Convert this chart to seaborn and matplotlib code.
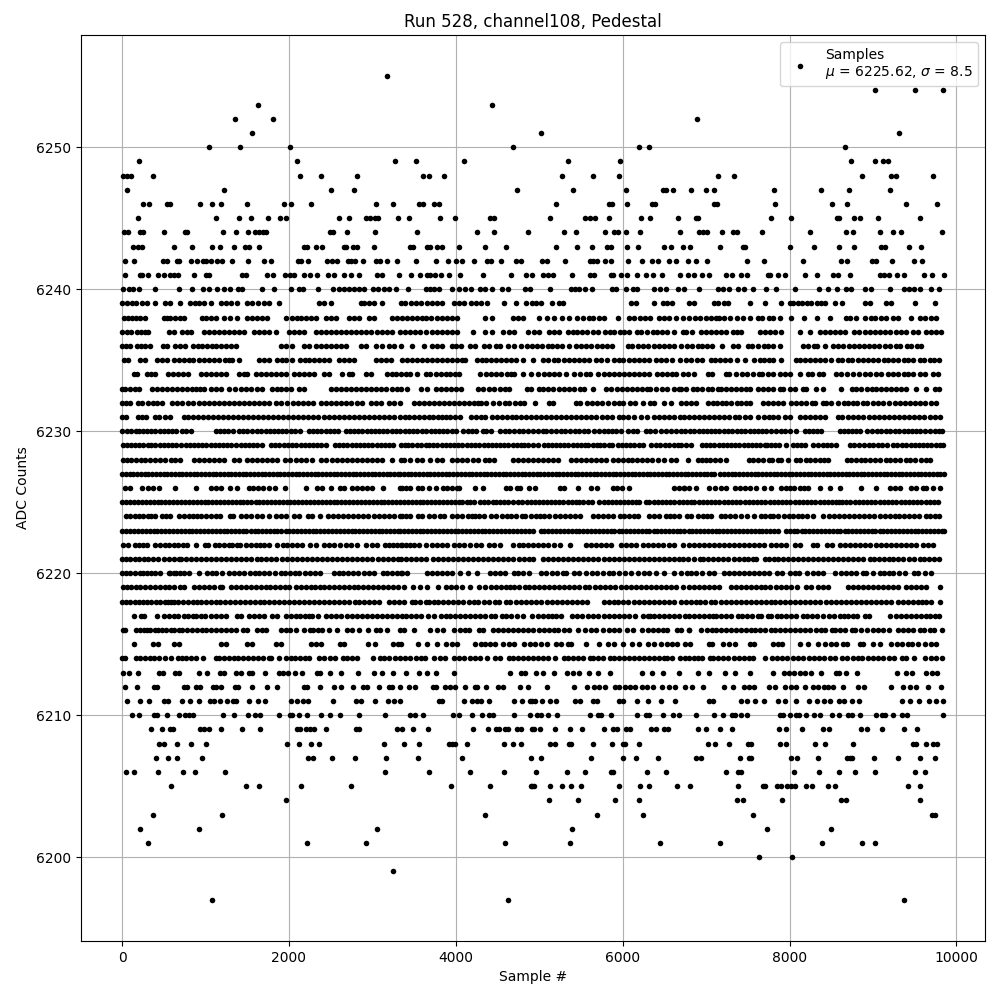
# pedestal_samples.py
import pandas as pd
import matplotlib
matplotlib.use('Agg')
import matplotlib.pyplot as plt
import seaborn as sns

# sample numbers, one list per ADC count
s_6197 = [1080, 4620, 9368]
s_6199 = [3252]
s_6200 = [7628, 8024]
s_6201 = [312, 2220, 2928, 4584, 5372, 6452, 7172, 8384, 8864, 9020]
s_6202 = [216, 924, 3060, 5396, 7724, 8492]
s_6203 = [372, 1200, 4344, 5696, 6248, 7556, 9704, 9740]
s_6204 = [1968, 5120, 5468, 5912, 6200, 7376, 7436, 7904, 8612, 8672, 9560]
s_6205 = [588, 1488, 1644, 2148, 2748, 3948, 4404, 4904, 4916, 4940, 5132, 5276, 5384, 5504, 5960, 6212, 6320, 6656,
          6812, 7388, 7676, 7700, 7844, 7892, 7964, 8012, 8060, 8192, 8264, 8456, 8540, 9416, 9560]
s_6206 = [48, 144, 432, 732, 876, 1236, 3156, 3684, 4164, 4572, 4964, 5336, 5552, 5864, 5888, 6296, 6524, 7244, 7388,
          7424, 8048, 8348, 8588, 8780, 9020, 9500, 9620]
s_6207 = [408, 552, 660, 960, 2232, 2292, 2520, 2796, 3168, 3552, 4080, 4904, 5024, 5624, 6008, 6164, 6428, 6884,
          6944, 7412, 7508, 7532, 8012, 8084, 8336, 8684, 8720, 8744, 9008, 9296, 9560, 9740]
s_6208 = [444, 504, 660, 828, 1008, 1980, 2124, 2268, 2364, 3144, 3384, 3564, 3924, 3960, 3996, 4128, 4572, 4680,
          4776, 5132, 5192, 5360, 5384, 5648, 5876, 6008, 6032, 6200, 7028, 7112, 7280, 7496, 7532, 7880, 7952, 8300,
          8420, 8756, 9476, 9512, 9632, 9716, 9764]
s_6209 = [348, 480, 576, 612, 936, 984, 1044, 1188, 1440, 1656, 2100, 2136, 2208, 2256, 2304, 2448, 2808, 2844, 3300,
          3360, 3492, 3672, 4200, 4380, 4476, 4512, 4584, 4620, 4728, 4776, 4916, 4940, 5012, 5192, 5372, 5516, 5780,
          5888, 5936, 6044, 6092, 6344, 6404, 6500, 6548, 6908, 7004, 7172, 7316, 7868, 7952, 8144, 8396, 8468, 8852,
          8924, 9104, 9368, 9524]
s_6210 = [120, 204, 384, 420, 540, 684, 756, 804, 852, 1212, 1344, 1512, 1596, 1656, 1884, 2016, 2040, 2124, 2220,
          2388, 2496, 2616, 2844, 3156, 3456, 3516, 3612, 3972, 4044, 4188, 4308, 4392, 4440, 4692, 4884, 4976, 5024,
          5108, 5216, 5612, 5708, 5744, 5864, 6176, 6284, 6320, 6488, 6608, 6680, 6884, 7100, 7208, 7316, 7352, 7424,
          7484, 7880, 7916, 8000, 8072, 8108, 8192, 8288, 8360, 8504, 8588, 8696, 8744, 8840, 9032, 9104, 9140, 9236,
          9344, 9404, 9836]
s_6211 = [60, 216, 324, 504, 552, 720, 816, 924, 1056, 1104, 1176, 1260, 1332, 1368, 1524, 1632, 1716, 2028, 2100,
          2172, 2232, 2532, 2808, 2868, 3036, 3192, 3264, 3336, 3804, 3840, 4092, 4188, 4248, 4296, 4392, 4692, 4788,
          4884, 4916, 4952, 5036, 5132, 5204, 5432, 5492, 5648, 5696, 5960, 6008, 6176, 6308, 6464, 6632, 7040, 7088,
          7424, 7484, 7580, 7688, 7856, 7940, 8072, 8228, 8324, 8408, 8480, 8588, 8648, 8744, 8828, 9344, 9440, 9548,
          9668, 9752, 9836]
s_6212 = [36, 180, 384, 420, 744, 780, 888, 936, 1092, 1128, 1188, 1356, 1392, 1560, 1740, 1860, 2184, 2220, 2376,
          2544, 2628, 2772, 2892, 2940, 3084, 3204, 3240, 3336, 3444, 3516, 3732, 3768, 3876, 3936, 3996, 4104, 4224,
          4248, 4364, 4500, 4560, 4764, 4860, 5096, 5420, 5576, 5660, 5720, 5792, 5912, 5960, 6032, 6092, 6152, 6236,
          6296, 6368, 6476, 6560, 6632, 6752, 6836, 6968, 7220, 7328, 7448, 7508, 7568, 7748, 7820, 7940, 8012, 8072,
          8180, 8276, 8336, 8408, 8456, 8516, 8636, 8816, 8888, 9216, 9356, 9440, 9512, 9656, 9812]
s_6213 = [12, 84, 192, 444, 492, 636, 684, 924, 1020, 1176, 1224, 1368, 1428, 1524, 1560, 1716, 1884, 1932, 1992,
          2076, 2160, 2340, 2376, 2496, 2628, 2832, 3024, 3120, 3252, 3408, 3564, 3660, 3768, 3984, 4644, 4776, 4824,
          4964, 5048, 5180, 5336, 5408, 5480, 5600, 5708, 5852, 6236, 6356, 6488, 6680, 6908, 7040, 7232, 7352, 7520,
          7796, 7928, 7988, 8048, 8120, 8180, 8252, 8372, 8552, 8588, 8672, 8804, 9284, 9392, 9464, 9632, 9704, 9764]
s_6214 = [4, 38, 165, 218, 270, 330, 385, 440, 510, 585, 670, 715, 770, 830, 880, 975, 1125, 1160, 1225, 1280, 1340,
          1395, 1450, 1510, 1570, 1630, 1690, 1755, 1785, 1875, 1960, 2025, 2075, 2135, 2190, 2235, 2365, 2420, 2490,
          2555, 2645, 2700, 2760, 2810, 3005, 3095, 3145, 3205, 3265, 3335, 3390, 3450, 3520, 3580, 3630, 3735, 3810,
          3875, 3975, 4040, 4100, 4165, 4230, 4295, 4375, 4470, 4535, 4635, 4690, 4750, 4810, 4870, 4930, 4990, 5050,
          5110, 5190, 5295, 5350, 5410, 5470, 5530, 5610, 5640, 5700, 5760, 5850, 5895, 5950, 6010, 6075, 6135, 6190,
          6250, 6310, 6370, 6430, 6490, 6535, 6590, 6690, 6745, 6800, 6860, 6905, 6950, 7045, 7085, 7140, 7200, 7265,
          7330, 7390, 7450, 7510, 7565, 7705, 7790, 7850, 7910, 7975, 8040, 8100, 8165, 8230, 8290, 8350, 8410, 8480,
          8545, 8630, 8690, 8755, 8815, 8870, 8935, 9000, 9060, 9125, 9190, 9250, 9345, 9390, 9490, 9620, 9690, 9750, 9825]
s_6215 = [140, 370, 430, 620, 680, 1180, 1240, 1500, 1560, 1850, 1900, 2260, 2330, 2380, 2610, 2660, 2950, 3030, 3250,
          3310, 3340, 3550, 3660, 3772, 3880, 3950, 4020, 4224, 4300, 4350, 4410, 4470, 4570, 4640, 4700, 4820, 4890,
          4950, 5020, 5090, 5200, 5260, 5345, 5380, 5560, 5720, 5820, 5900, 6000, 6110, 6190, 6300, 6380, 6460, 6530,
          6590, 6650, 6745, 6810, 7040, 7070, 7200, 7280, 7350, 7520, 7570, 7800, 7860, 7910, 8120, 8220, 8340, 8420,
          8500, 8560, 8640, 8690, 8840, 8880, 9000, 9080, 9210, 9290, 9345, 9420, 9470, 9540, 9620, 9690, 9750]
s_6216 = [5, 30, 170, 210, 260, 300, 335, 400, 430, 480, 530, 590, 620, 680, 720, 780, 840, 900, 960, 1010, 1060, 1120,
          1180, 1240, 1300, 1360, 1450, 1500, 1620, 1680, 1730, 1900, 1960, 2010, 2090, 2180, 2250, 2290, 2350, 2400,
          2480, 2570, 2700, 2760, 2840, 2950, 3040, 3090, 3180, 3330, 3380, 3500, 3690, 3770, 3850, 3980, 4050, 4110,
          4160, 4275, 4320, 4440, 4500, 4570, 4630, 4690, 4750, 4810, 4870, 4930, 5000, 5060, 5120, 5180, 5220, 5300,
          5360, 5470, 5545, 5620, 5680, 5760, 5830, 5890, 5950, 6050, 6120, 6230, 6300, 6360, 6420, 6480, 6530, 6650,
          6700, 6790, 6800, 6940, 7010, 7070, 7120, 7180, 7240, 7300, 7360, 7420, 7480, 7540, 7590, 7650, 7700, 7780,
          7830, 7890, 7950, 8000, 8060, 8120, 8190, 8250, 8320, 8380, 8430, 8510, 8550, 8610, 8670, 8750, 8790, 8860,
          8930, 9000, 9060, 9120, 9190, 9300, 9360, 9420, 9480, 9560, 9610, 9680, 9730, 9830]
s_6217 = [140, 230, 260, 420, 500, 560, 620, 670, 740, 790, 850, 880, 940, 990, 1070, 1130, 1190, 1240, 1380, 1420,
          1520, 1580, 1640, 1700, 1800, 1860, 1970, 2030, 2080, 2130, 2190, 2240, 2280, 2350, 2440, 2500, 2560, 2620,
          2700, 2760, 2820, 2870, 2930, 3000, 3060, 3120, 3180, 3240, 3300, 3350, 3400, 3460, 3520, 3580, 3670, 3740,
          3820, 3880, 3930, 3990, 4050, 4110, 4170, 4230, 4290, 4350, 4420, 4470, 4550, 4600, 4660, 4730, 4800, 4910,
          4980, 5040, 5100, 5150, 5200, 5260, 5390, 5450, 5510, 5580, 5640, 5700, 5770, 5830, 5890, 5950, 6010, 6070,
          6150, 6240, 6300, 6330, 6380, 6440, 6500, 6560, 6620, 6680, 6745, 6800, 6860, 6920, 6980, 7030, 7080, 7120,
          7180, 7240, 7300, 7380, 7430, 7490, 7550, 7620, 7660, 7740, 7780, 7850, 7900, 7960, 8020, 8080, 8160, 8210,
          8270, 8330, 8400, 8470, 8530, 8600, 8650, 8700, 8760, 8810, 8900, 8950, 9200, 9270, 9330, 9400, 9450, 9520,
          9580, 9640, 9680, 9740, 9790]
s_6218 = [0, 45, 95, 150, 200, 250, 300, 350, 405, 455, 510, 550, 590, 620, 670, 730, 790, 850, 900, 950, 1010, 1070,
          1130, 1170, 1230, 1290, 1350, 1415, 1470, 1530, 1590, 1650, 1700, 1760, 1820, 1880, 1940, 2000, 2060, 2120,
          2180, 2240, 2300, 2360, 2420, 2480, 2540, 2600, 2660, 2720, 2790, 2840, 2900, 2960, 3020, 3080, 3200, 3260,
          3320, 3375, 3470, 3510, 3570, 3640, 3680, 3740, 3790, 3850, 3910, 3970, 4030, 4090, 4160, 4220, 4270, 4340,
          4400, 4470, 4520, 4600, 4650, 4720, 4780, 4840, 4900, 4960, 5020, 5090, 5150, 5210, 5270, 5330, 5395, 5450,
          5510, 5570, 5770, 5830, 5890, 5940, 6000, 6060, 6130, 6190, 6250, 6310, 6370, 6430, 6490, 6560, 6620, 6700,
          6760, 6820, 6880, 6930, 6990, 7060, 7110, 7180, 7240, 7300, 7360, 7420, 7480, 7540, 7600, 7660, 7720, 7780,
          7830, 7890, 7950, 8010, 8070, 8130, 8190, 8250, 8310, 8370, 8440, 8500, 8560, 8620, 8680, 8740, 8800, 8860,
          8920, 8980, 9040, 9100, 9160, 9220, 9300, 9360, 9420, 9480, 9540, 9590, 9640, 9700, 9800]
s_6219 = [5, 60, 110, 170, 220, 280, 340, 400, 450, 510, 560, 620, 700, 740, 860, 920, 980, 1040, 1100, 1170, 1200,
          1300, 1370, 1420, 1480, 1550, 1600, 1660, 1720, 1770, 1830, 1890, 1950, 2000, 2090, 2150, 2200, 2260, 2310,
          2370, 2420, 2480, 2540, 2600, 2660, 2720, 2780, 2830, 2890, 2950, 3010, 3070, 3130, 3190, 3250, 3310, 3380,
          3490, 3570, 3660, 3790, 3880, 3940, 4000, 4070, 4170, 4280, 4350, 4420, 4480, 4540, 4600, 4650, 4700, 4760,
          4830, 4880, 4940, 5000, 5060, 5120, 5180, 5240, 5300, 5360, 5420, 5480, 5550, 5600, 5670, 5730, 5790, 5850,
          5910, 5980, 6040, 6100, 6160, 6220, 6280, 6340, 6400, 6460, 6520, 6580, 6640, 6720, 6800, 6860, 6920, 6980,
          7040, 7100, 7160, 7300, 7360, 7420, 7480, 7540, 7600, 7660, 7710, 7770, 7840, 7900, 7960, 8020, 8090, 8200,
          8260, 8340, 8400, 8460, 8700, 8760, 8820, 8880, 8940, 9000, 9060, 9120, 9180, 9240, 9300, 9400, 9460, 9520,
          9580, 9640, 9800]
s_6220 = [0, 50, 95, 150, 210, 250, 300, 350, 400, 455, 560, 580, 620, 650, 700, 740, 800, 920, 1020, 1080, 1130, 1200,
          1280, 1340, 1400, 1460, 1530, 1590, 1640, 1700, 1760, 1830, 1900, 1950, 2010, 2070, 2120, 2190, 2250, 2310,
          2370, 2540, 2600, 2650, 2710, 2770, 2830, 2900, 2960, 3020, 3130, 3170, 3230, 3300, 3340, 3360, 3420, 3660,
          3720, 3780, 3840, 3900, 3960, 4050, 4150, 4250, 4410, 4470, 4530, 4590, 4700, 4740, 4810, 4880, 5020, 5080,
          5150, 5210, 5280, 5320, 5420, 5480, 5560, 5630, 5690, 5760, 5830, 5880, 5950, 6030, 6100, 6180, 6250, 6320,
          6400, 6500, 6610, 6700, 6770, 6820, 6880, 6950, 7030, 7090, 7220, 7270, 7330, 7390, 7450, 7510, 7570, 7630,
          7690, 7750, 7850, 7910, 8010, 8070, 8110, 8210, 8280, 8340, 8400, 8540, 8620, 8680, 8740, 8800, 8880, 8920,
          9000, 9080, 9130, 9190, 9240, 9310, 9380, 9490, 9540, 9620, 9690]
s_6221 = [0, 45, 95, 150, 205, 260, 310, 370, 430, 500, 560, 620, 680, 710, 770, 830, 890, 950, 1010, 1070, 1130, 1190,
          1250, 1310, 1370, 1430, 1490, 1550, 1620, 1670, 1730, 1780, 1840, 1920, 1980, 2040, 2100, 2160, 2220, 2280,
          2340, 2400, 2460, 2520, 2580, 2640, 2700, 2760, 2820, 2880, 2940, 3000, 3070, 3130, 3190, 3250, 3310, 3340,
          3400, 3460, 3520, 3580, 3640, 3730, 3790, 3850, 3910, 3970, 4030, 4090, 4150, 4210, 4270, 4330, 4390, 4450,
          4510, 4570, 4630, 4690, 4760, 4820, 4880, 4930, 5040, 5100, 5160, 5220, 5280, 5340, 5400, 5470, 5530, 5590,
          5650, 5710, 5770, 5830, 5890, 5950, 6010, 6070, 6130, 6190, 6250, 6320, 6380, 6440, 6500, 6560, 6620, 6680,
          6720, 6780, 6860, 6930, 6960, 7020, 7080, 7140, 7200, 7260, 7330, 7390, 7450, 7500, 7560, 7600, 7700, 7750,
          7810, 7860, 7920, 7980, 8040, 8100, 8160, 8220, 8280, 8340, 8400, 8460, 8520, 8580, 8640, 8700, 8760, 8820,
          8880, 8960, 9010, 9070, 9130, 9190, 9240, 9300, 9360, 9430, 9490, 9560, 9610, 9670, 9730, 9790]
s_6222 = [10, 70, 150, 200, 255, 300, 400, 460, 510, 560, 620, 670, 730, 780, 880, 990, 1030, 1110, 1160, 1220, 1280,
          1320, 1380, 1410, 1480, 1540, 1600, 1650, 1700, 1760, 1860, 1930, 1980, 2040, 2100, 2160, 2250, 2320, 2420,
          2480, 2540, 2610, 2680, 2740, 2820, 2920, 2990, 3060, 3150, 3200, 3250, 3300, 3340, 3350, 3400, 3450, 3500,
          3560, 3640, 3720, 3770, 3830, 3890, 3980, 4040, 4100, 4170, 4240, 4300, 4400, 4460, 4530, 4690, 4760, 4810,
          4870, 4930, 4990, 5050, 5110, 5180, 5250, 5370, 5560, 5620, 5680, 5740, 5800, 5860, 5980, 6040, 6100, 6160,
          6240, 6300, 6360, 6420, 6480, 6560, 6610, 6720, 6800, 6860, 6920, 6980, 7030, 7090, 7150, 7210, 7270, 7330,
          7390, 7450, 7510, 7570, 7630, 7690, 7780, 7840, 7900, 7960, 8060, 8120, 8280, 8330, 8450, 8510, 8600, 8660,
          8720, 8780, 8840, 8900, 8960, 9040, 9100, 9160, 9220, 9280, 9340, 9400, 9460, 9520, 9600, 9660, 9720]
s_6223 = [0, 48, 92, 140, 190, 236, 282, 330, 378, 420, 470, 518, 560, 612, 658, 702, 750, 798, 842, 890, 935, 985,
          1030, 1080, 1125, 1170, 1218, 1262, 1310, 1355, 1400, 1448, 1490, 1540, 1590, 1632, 1680, 1725, 1772, 1820,
          1860, 1910, 1960, 2005, 2050, 2100, 2148, 2192, 2240, 2285, 2330, 2378, 2425, 2470, 2520, 2562, 2610, 2655,
          2705, 2750, 2795, 2842, 2890, 2935, 2980, 3030, 3075, 3120, 3168, 3215, 3260, 3310, 3335, 3380, 3430, 3475,
          3520, 3570, 3612, 3660, 3705, 3750, 3802, 3845, 3890, 3940, 3985, 4030, 4078, 4122, 4170, 4218, 4262, 4310,
          4355, 4400, 4450, 4495, 4545, 4590, 4640, 4690, 4730, 4780, 4825, 4872, 4920, 5015, 5060, 5110, 5155, 5200,
          5250, 5295, 5340, 5390, 5435, 5480, 5530, 5575, 5620, 5668, 5715, 5760, 5810, 5855, 5900, 5950, 5995, 6040,
          6090, 6135, 6180, 6230, 6275, 6320, 6370, 6415, 6460, 6510, 6555, 6600, 6650, 6690, 6740, 6790, 6835, 6880,
          6925, 6975, 7020, 7068, 7115, 7160, 7208, 7255, 7300, 7348, 7392, 7440, 7490, 7535, 7580, 7630, 7675, 7720,
          7770, 7815, 7860, 7955, 8005, 8050, 8095, 8145, 8190, 8238, 8285, 8330, 8380, 8425, 8470, 8520, 8565, 8610,
          8660, 8705, 8750, 8800, 8845, 8890, 8940, 8985, 9030, 9080, 9125, 9170, 9220, 9265, 9310, 9360, 9405, 9450,
          9500, 9545, 9590, 9640, 9685, 9730, 9780, 9825, 9850]
s_6224 = [50, 100, 150, 200, 255, 310, 345, 400, 480, 530, 570, 680, 740, 800, 850, 900, 950, 1000, 1070, 1120, 1170,
          1290, 1330, 1420, 1490, 1540, 1620, 1680, 1760, 1840, 1900, 1960, 2060, 2120, 2230, 2280, 2370, 2470, 2530,
          2590, 2650, 2710, 2770, 2830, 2890, 2950, 3020, 3080, 3140, 3200, 3260, 3330, 3350, 3400, 3450, 3550, 3600,
          3680, 3740, 3810, 3860, 3950, 4010, 4070, 4150, 4190, 4230, 4280, 4340, 4420, 4480, 4550, 4610, 4660, 4720,
          4790, 4830, 4900, 4960, 5010, 5060, 5120, 5190, 5250, 5310, 5370, 5430, 5490, 5640, 5700, 5760, 5820, 5880,
          5970, 6020, 6080, 6130, 6180, 6320, 6380, 6440, 6520, 6570, 6620, 6680, 6770, 6820, 6900, 6960, 7010, 7060,
          7180, 7230, 7290, 7350, 7420, 7490, 7570, 7660, 7700, 7760, 7800, 7860, 7930, 7990, 8040, 8100, 8150, 8210,
          8280, 8400, 8470, 8530, 8590, 8650, 8710, 8770, 8830, 8890, 8950, 9010, 9080, 9140, 9200, 9260, 9310, 9370,
          9430, 9490, 9550, 9630, 9680, 9740, 9790]
s_6225 = [0, 47, 95, 142, 188, 236, 285, 330, 378, 425, 472, 518, 565, 610, 660, 705, 752, 800, 848, 892, 940, 988,
          1035, 1080, 1128, 1175, 1222, 1268, 1315, 1362, 1410, 1455, 1502, 1550, 1600, 1642, 1690, 1738, 1785, 1830,
          1878, 1925, 1972, 2018, 2065, 2112, 2160, 2205, 2252, 2300, 2348, 2392, 2440, 2488, 2535, 2580, 2628, 2675,
          2722, 2768, 2815, 2862, 2910, 2955, 3002, 3050, 3098, 3142, 3190, 3238, 3285, 3330, 3378, 3425, 3472, 3518,
          3565, 3612, 3660, 3705, 3752, 3800, 3848, 3892, 3940, 3988, 4035, 4080, 4128, 4175, 4222, 4290, 4340, 4390,
          4440, 4480, 4530, 4580, 4630, 4690, 4740, 4790, 4850, 4900, 4950, 5000, 5040, 5090, 5140, 5190, 5240, 5290,
          5340, 5390, 5440, 5480, 5530, 5580, 5630, 5720, 5770, 5820, 5870, 5920, 5970, 6010, 6060, 6110, 6160, 6200,
          6280, 6320, 6370, 6420, 6470, 6520, 6570, 6620, 6670, 6720, 6770, 6820, 6860, 6910, 6960, 7010, 7060, 7110,
          7160, 7210, 7260, 7310, 7360, 7410, 7460, 7510, 7560, 7610, 7660, 7710, 7760, 7810, 7860, 7910, 7960, 8010,
          8060, 8110, 8160, 8210, 8260, 8310, 8360, 8410, 8460, 8510, 8560, 8590, 8630, 8680, 8730, 8780, 8830, 8880,
          8930, 8980, 9030, 9080, 9130, 9180, 9230, 9280, 9330, 9380, 9430, 9480, 9530, 9580, 9630, 9680, 9730, 9785]
s_6226 = [40, 90, 240, 310, 370, 440, 630, 880, 1070, 1130, 1190, 1290, 1380, 1520, 1570, 1630, 1690, 1760, 1830, 1950,
          2210, 2340, 2400, 2500, 2610, 2660, 2760, 2820, 2880, 2940, 3000, 3130, 3330, 3350, 3400, 3450, 3550, 3600,
          3680, 3760, 3850, 3900, 3950, 4010, 4040, 4230, 4330, 4600, 4650, 4730, 4770, 4880, 4950, 5250, 5300, 5470,
          5620, 5690, 5880, 5930, 5990, 6080, 6610, 6680, 6740, 6790, 6740, 6880, 7030, 7110, 7180, 7240, 7350, 7410,
          7470, 7530, 7600, 7690, 7780, 7900, 7960, 8010, 8050, 8120, 8170, 8220, 8360, 8490, 8610, 8860, 9040, 9200,
          9260, 9320, 9460, 9510, 9600, 9640, 9720, 9800]
s_6227 = [0, 44, 90, 136, 180, 224, 272, 316, 362, 406, 452, 498, 542, 586, 632, 680, 722, 766, 812, 858, 902, 946, 994,
          1040, 1084, 1128, 1174, 1220, 1266, 1310, 1354, 1402, 1446, 1490, 1536, 1582, 1626, 1672, 1718, 1762, 1808,
          1854, 1898, 1944, 1990, 2034, 2080, 2126, 2170, 2216, 2262, 2308, 2352, 2398, 2444, 2490, 2534, 2580, 2626,
          2670, 2716, 2762, 2808, 2852, 2898, 2944, 2990, 3034, 3080, 3126, 3170, 3216, 3262, 3306, 3332, 3378, 3424,
          3468, 3514, 3560, 3606, 3650, 3696, 3742, 3788, 3832, 3878, 3924, 3970, 4014, 4060, 4106, 4152, 4196, 4242,
          4288, 4332, 4378, 4424, 4470, 4514, 4560, 4606, 4652, 4696, 4742, 4788, 4832, 4878, 4924, 4970, 5014, 5060,
          5106, 5152, 5196, 5242, 5288, 5332, 5378, 5424, 5470, 5514, 5560, 5606, 5652, 5696, 5742, 5788, 5832, 5878,
          5924, 5970, 6014, 6060, 6106, 6152, 6196, 6242, 6288, 6332, 6378, 6424, 6470, 6514, 6560, 6606, 6652, 6696,
          6742, 6788, 6832, 6878, 6924, 6970, 7014, 7060, 7100, 7170, 7216, 7262, 7306, 7352, 7398, 7444, 7490, 7534,
          7580, 7626, 7672, 7716, 7762, 7808, 7852, 7898, 7944, 7990, 8034, 8080, 8126, 8172, 8216, 8262, 8308, 8352,
          8398, 8444, 8490, 8534, 8580, 8626, 8672, 8716, 8762, 8808, 8852, 8898, 8944, 8990, 9034, 9080, 9126, 9172,
          9216, 9262, 9308, 9352, 9398, 9444, 9490, 9534, 9580, 9626, 9672, 9716, 9762, 9808, 9850]
s_6228 = [10, 60, 110, 170, 230, 280, 340, 400, 460, 520, 590, 640, 700, 860, 920, 980, 1040, 1100, 1160, 1220, 1340,
          1400, 1500, 1560, 1620, 1680, 1740, 1800, 1860, 1950, 2010, 2080, 2140, 2200, 2280, 2380, 2440, 2520, 2580,
          2640, 2700, 2760, 2820, 2880, 2940, 3000, 3060, 3120, 3240, 3340, 3380, 3450, 3530, 3590, 3690, 3780, 3830,
          3950, 4020, 4070, 4130, 4200, 4270, 4350, 4400, 4460, 4690, 4750, 4800, 4860, 4920, 4980, 5040, 5100, 5160,
          5220, 5380, 5440, 5500, 5560, 5620, 5680, 5740, 5800, 5880, 5940, 6000, 6060, 6110, 6170, 6230, 6290, 6350,
          6420, 6490, 6580, 6640, 6780, 6900, 6950, 7000, 7050, 7110, 7170, 7240, 7510, 7560, 7620, 7680, 7750, 7790,
          7860, 7900, 7980, 8080, 8120, 8200, 8250, 8310, 8360, 8410, 8460, 8690, 8740, 8800, 8860, 8910, 8960, 9020,
          9080, 9150, 9200, 9260, 9320, 9390, 9440, 9500, 9570, 9630, 9680]
s_6229 = [5, 55, 105, 150, 205, 255, 305, 345, 400, 450, 500, 550, 600, 650, 710, 760, 810, 860, 910, 960, 1010, 1060,
          1110, 1160, 1210, 1260, 1310, 1370, 1420, 1470, 1520, 1570, 1620, 1680, 1780, 1830, 1880, 1940, 1990, 2040,
          2090, 2140, 2190, 2240, 2290, 2340, 2390, 2440, 2550, 2600, 2650, 2700, 2750, 2800, 2850, 2900, 2950, 3000,
          3050, 3100, 3150, 3200, 3250, 3340, 3385, 3430, 3480, 3530, 3580, 3640, 3680, 3730, 3780, 3830, 3880, 3930,
          3980, 4030, 4080, 4130, 4180, 4230, 4280, 4340, 4380, 4430, 4480, 4530, 4580, 4620, 4680, 4730, 4780, 4820,
          4870, 4930, 4980, 5060, 5100, 5150, 5200, 5250, 5300, 5350, 5400, 5450, 5500, 5550, 5590, 5640, 5690, 5730,
          5780, 5830, 5870, 5940, 5990, 6040, 6090, 6140, 6190, 6240, 6340, 6400, 6450, 6510, 6560, 6610, 6660, 6700,
          6760, 6820, 6950, 7000, 7050, 7100, 7150, 7200, 7250, 7300, 7350, 7400, 7450, 7500, 7550, 7600, 7650, 7700,
          7730, 7780, 7830, 7870, 7960, 8040, 8090, 8140, 8190, 8280, 8340, 8400, 8450, 8500, 8560, 8720, 8770, 8830,
          8890, 8950, 9000, 9060, 9110, 9170, 9240, 9290, 9350, 9400, 9450, 9500, 9550, 9600, 9650, 9700, 9750, 9800, 9845]
s_6230 = [0, 55, 110, 165, 200, 250, 300, 350, 400, 450, 500, 550, 600, 650, 720, 770, 820, 1120, 1170, 1220, 1270,
          1330, 1400, 1450, 1500, 1560, 1620, 1670, 1720, 1770, 1820, 1870, 1920, 1970, 2020, 2070, 2130, 2240, 2290,
          2340, 2390, 2440, 2490, 2540, 2590, 2680, 2730, 2780, 2830, 2880, 2930, 2980, 3030, 3080, 3130, 3180, 3230,
          3280, 3335, 3390, 3440, 3490, 3540, 3590, 3640, 3700, 3750, 3800, 3850, 3900, 3950, 4000, 4090, 4140, 4190,
          4240, 4320, 4360, 4420, 4530, 4590, 4640, 4700, 4760, 4810, 4870, 4920, 4980, 5040, 5080, 5140, 5200, 5260,
          5310, 5370, 5430, 5480, 5540, 5590, 5660, 5720, 5770, 5820, 5870, 5920, 5980, 6060, 6120, 6170, 6280, 6330,
          6390, 6460, 6520, 6580, 6640, 6700, 6750, 6810, 6860, 6910, 6960, 7010, 7060, 7110, 7160, 7210, 7260, 7310,
          7370, 7420, 7470, 7520, 7570, 7620, 7670, 7720, 7780, 7840, 7900, 7950, 8000, 8080, 8180, 8230, 8280, 8330,
          8380, 8600, 8650, 8700, 8750, 8800, 8850, 8930, 8990, 9050, 9100, 9150, 9200, 9260, 9310, 9370, 9420, 9470,
          9520, 9560, 9620, 9680, 9740, 9790, 9830]
s_6231 = [0, 50, 190, 240, 290, 390, 440, 510, 570, 740, 790, 850, 910, 970, 1030, 1090, 1150, 1210, 1270, 1330, 1390,
          1450, 1510, 1570, 1630, 1690, 1750, 1810, 1870, 1930, 1990, 2050, 2110, 2170, 2230, 2290, 2350, 2420, 2480,
          2540, 2600, 2660, 2720, 2780, 2840, 2900, 2960, 3020, 3080, 3140, 3200, 3260, 3330, 3390, 3440, 3500, 3560,
          3620, 3680, 3730, 3790, 3830, 3880, 3930, 3990, 4050, 4180, 4240, 4300, 4350, 4430, 4490, 4550, 4610, 4670,
          4720, 4780, 4840, 4900, 4960, 5020, 5080, 5140, 5200, 5260, 5320, 5380, 5440, 5500, 5560, 5620, 5680, 5750,
          5810, 5870, 5950, 6000, 6060, 6130, 6220, 6290, 6370, 6440, 6500, 6560, 6620, 6690, 6740, 6800, 6860, 6920,
          6980, 7040, 7100, 7160, 7220, 7280, 7350, 7400, 7470, 7530, 7620, 7690, 7750, 7800, 7860, 7950, 8000, 8130,
          8190, 8250, 8310, 8370, 8420, 8580, 8630, 8700, 8760, 8820, 8880, 8950, 9010, 9070, 9130, 9190, 9250, 9310,
          9370, 9430, 9490, 9550, 9610, 9680, 9740, 9800]
s_6232 = [0, 50, 100, 190, 240, 310, 370, 420, 480, 600, 660, 720, 790, 850, 920, 980, 1040, 1100, 1160, 1220, 1280,
          1340, 1400, 1460, 1520, 1580, 1640, 1700, 1760, 1850, 1910, 1980, 2050, 2110, 2170, 2230, 2290, 2380, 2440,
          2500, 2560, 2620, 2680, 2740, 2820, 2880, 2980, 3040, 3100, 3200, 3260, 3330, 3500, 3560, 3620, 3680, 3740,
          3800, 3860, 3920, 3980, 4040, 4100, 4160, 4220, 4260, 4300, 4360, 4440, 4520, 4590, 4640, 4710, 4770, 4820,
          4950, 5120, 5170, 5440, 5490, 5570, 5630, 5690, 5750, 5820, 5890, 5950, 6000, 6090, 6150, 6240, 6330, 6370,
          6500, 6580, 6700, 6760, 6820, 6880, 7020, 7080, 7130, 7190, 7240, 7300, 7370, 7420, 7480, 7530, 7680, 7740,
          7800, 7860, 7920, 8020, 8080, 8140, 8200, 8270, 8310, 8400, 8440, 8500, 8580, 8650, 8700, 8760, 8810, 8880,
          8930, 9000, 9060, 9120, 9190, 9260, 9320, 9380, 9440, 9500, 9560, 9620, 9690, 9750]
s_6233 = [0, 40, 90, 150, 200, 360, 420, 480, 540, 600, 660, 720, 780, 840, 880, 930, 980, 1060, 1120, 1190, 1280, 1350,
          1420, 1480, 1540, 1620, 1680, 1800, 1860, 1900, 1960, 2020, 2120, 2180, 2500, 2560, 2620, 2680, 2740, 2800,
          2860, 2920, 2980, 3040, 3100, 3160, 3240, 3300, 3340, 3420, 3580, 3650, 3760, 3820, 3880, 3940, 4000, 4060,
          4260, 4320, 4400, 4460, 4530, 4590, 4640, 4850, 4900, 5000, 5040, 5100, 5160, 5240, 5300, 5360, 5420, 5490,
          5540, 5640, 5800, 5860, 5930, 5990, 6050, 6110, 6170, 6230, 6290, 6330, 6400, 6470, 6530, 6620, 6680, 6700,
          6760, 6840, 6890, 6950, 7020, 7070, 7140, 7180, 7240, 7300, 7360, 7420, 7480, 7530, 7620, 7680, 7740, 7800,
          7880, 7920, 8000, 8060, 8160, 8200, 8320, 8400, 8620, 8750, 8800, 8860, 8930, 8990, 9040, 9100, 9160, 9220,
          9280, 9340, 9400, 9520, 9640, 9740, 9790]
s_6234 = [140, 180, 300, 350, 400, 550, 610, 670, 730, 790, 950, 1010, 1060, 1130, 1190, 1250, 1400, 1460, 1500, 1600,
          1660, 1720, 1780, 1840, 1900, 1960, 2060, 2120, 2180, 2240, 2300, 2420, 2480, 2640, 2720, 2760, 2920, 2980,
          3180, 3240, 3280, 3340, 3400, 3450, 3530, 3640, 3690, 3760, 3820, 3880, 3930, 3990, 4040, 4290, 4360, 4420,
          4480, 4540, 4610, 4660, 4700, 4800, 4900, 4980, 5060, 5120, 5180, 5240, 5320, 5420, 5490, 5560, 5610, 5700,
          5770, 5830, 5890, 5950, 6010, 6070, 6130, 6190, 6250, 6310, 6410, 6470, 6530, 6590, 6640, 6720, 6780, 6850,
          7020, 7070, 7240, 7280, 7360, 7430, 7490, 7560, 7630, 7670, 7740, 7800, 7880, 7940, 8000, 8130, 8220, 8270,
          8350, 8400, 8560, 8620, 8690, 8760, 8830, 8900, 8960, 9040, 9100, 9180, 9240, 9300, 9370, 9420, 9480, 9560,
          9620, 9720, 9780]
s_6235 = [20, 70, 210, 270, 420, 480, 540, 620, 680, 740, 800, 850, 920, 980, 1040, 1100, 1160, 1230, 1280, 1320, 1400,
          1640, 1700, 1760, 1860, 1920, 1960, 2040, 2130, 2190, 2240, 2300, 2360, 2420, 2480, 2600, 2660, 2720, 2780,
          3040, 3100, 3160, 3220, 3360, 3410, 3470, 3530, 3590, 3650, 3710, 3770, 3840, 3900, 3960, 4020, 4080, 4110,
          4250, 4310, 4360, 4420, 4480, 4540, 4600, 4660, 4720, 4800, 4920, 5050, 5100, 5180, 5230, 5300, 5360, 5420,
          5480, 5540, 5600, 5680, 5740, 5810, 5900, 5950, 6000, 6070, 6130, 6200, 6250, 6310, 6400, 6460, 6520, 6590,
          6690, 6760, 6820, 6890, 6950, 7060, 7110, 7170, 7230, 7290, 7370, 7470, 7570, 7640, 7690, 7750, 7800, 7900,
          8080, 8130, 8190, 8250, 8310, 8370, 8430, 8500, 8580, 8630, 8700, 8750, 8820, 8880, 8940, 9000, 9060, 9130,
          9180, 9240, 9300, 9370, 9420, 9480, 9560, 9610, 9680, 9730, 9790]
s_6236 = [0, 50, 100, 180, 230, 280, 340, 490, 540, 640, 690, 750, 850, 910, 960, 1020, 1080, 1130, 1190, 1250, 1310,
          1370, 1910, 1970, 2040, 2180, 2240, 2320, 2380, 2440, 2500, 2560, 2620, 2680, 2860, 2920, 3040, 3120, 3200,
          3260, 3340, 3470, 3620, 3710, 3780, 3840, 3950, 4000, 4060, 4170, 4230, 4340, 4400, 4480, 4530, 4620, 4700,
          4780, 4850, 4910, 4970, 5030, 5100, 5150, 5210, 5270, 5360, 5440, 5500, 5560, 5620, 5690, 5750, 5810, 5870,
          6060, 6110, 6180, 6240, 6300, 6370, 6430, 6490, 6550, 6610, 6700, 6770, 6830, 6900, 6950, 7010, 7070, 7190,
          7320, 7380, 7500, 7550, 7620, 7690, 7740, 7800, 7880, 8160, 8220, 8290, 8330, 8430, 8520, 8580, 8640, 8710,
          8770, 8830, 8890, 8950, 9010, 9070, 9140, 9200, 9270, 9320, 9410, 9460, 9530, 9580]
s_6237 = [0, 60, 110, 180, 230, 270, 310, 560, 620, 720, 780, 830, 980, 1040, 1100, 1160, 1220, 1280, 1340, 1400, 1460,
          1580, 1640, 1700, 1760, 1840, 2000, 2060, 2120, 2180, 2320, 2380, 2440, 2500, 2560, 2620, 2680, 2740, 2800,
          2860, 2920, 2980, 3060, 3120, 3180, 3240, 3335, 3390, 3450, 3510, 3570, 3640, 3710, 3770, 3840, 3890, 3950,
          4010, 4200, 4350, 4430, 4570, 4640, 4700, 4870, 4940, 5000, 5120, 5180, 5240, 5340, 5400, 5450, 5510, 5570,
          5640, 5700, 5790, 5850, 5900, 5970, 6020, 6080, 6170, 6220, 6290, 6360, 6410, 6470, 6530, 6610, 6720, 6760,
          6830, 6940, 7000, 7060, 7120, 7180, 7240, 7320, 7370, 7420, 7640, 7700, 7760, 7820, 7900, 8120, 8240, 8360,
          8420, 8480, 8540, 8600, 8670, 8770, 8830, 8900, 8960, 9020, 9080, 9140, 9200, 9280, 9340, 9400, 9480, 9540,
          9640, 9700, 9760, 9810]
s_6238 = [20, 70, 120, 170, 210, 270, 500, 540, 580, 640, 700, 740, 960, 1010, 1060, 1120, 1220, 1290, 1380, 1500, 1560,
          1620, 1680, 1740, 1960, 2040, 2100, 2150, 2210, 2260, 2330, 2440, 2500, 2560, 2720, 2780, 2840, 2960, 3020,
          3240, 3300, 3360, 3420, 3480, 3530, 3590, 3640, 3700, 3780, 3840, 3900, 3960, 4020, 4350, 4430, 4680, 4750,
          4800, 5000, 5090, 5180, 5270, 5360, 5450, 5530, 5600, 5650, 5720, 5780, 5940, 6080, 6140, 6210, 6270, 6330,
          6430, 6490, 6560, 6640, 6720, 6800, 6870, 6930, 7000, 7060, 7120, 7160, 7220, 7290, 7370, 7440, 7530, 7620,
          7670, 7750, 7800, 7880, 8020, 8170, 8330, 8480, 8680, 8730, 8800, 8910, 8980, 9030, 9100, 9150, 9240, 9300,
          9450, 9560, 9620, 9690, 9750]
s_6239 = [0, 60, 120, 170, 240, 300, 390, 520, 570, 700, 810, 870, 920, 980, 1060, 1180, 1240, 1300, 1380, 1500, 1560,
          1630, 1700, 1760, 1880, 2360, 2420, 2500, 2860, 2900, 2960, 3020, 3120, 3340, 3390, 3460, 3520, 3580, 3650,
          3720, 3780, 3840, 3980, 4040, 4100, 4180, 4240, 4300, 4370, 4580, 4720, 4840, 4910, 4960, 5020, 5150, 5240,
          5290, 6100, 6160, 6380, 6480, 6530, 6590, 6800, 6860, 7100, 7140, 7220, 7260, 7530, 7700, 7900, 8000, 8040,
          8100, 8150, 8210, 8260, 8330, 8380, 8430, 8540, 8630, 8910, 8960, 9160, 9210, 9500, 9740]
s_6240 = [12, 84, 132, 204, 396, 684, 840, 972, 1044, 1140, 1224, 1296, 1392, 1440, 1680, 1824, 2028, 2124, 2172, 2352,
          2532, 2604, 2664, 2724, 2784, 2844, 2904, 3012, 3072, 3144, 3204, 3288, 3432, 3648, 3696, 3744, 3804, 3960,
          4044, 4104, 4176, 4284, 4344, 4428, 4548, 4620, 4824, 4884, 5132, 5384, 5432, 5480, 5552, 5636, 5876, 5924,
          6044, 6128, 6176, 6380, 6452, 6524, 6668, 6740, 6920, 7148, 7208, 7280, 7388, 7448, 7556, 7712, 7832, 8060,
          8348, 8456, 8564, 8672, 8732, 8900, 8972, 9200, 9368, 9428, 9488, 9560, 9692, 9788]
s_6241 = [36, 216, 240, 312, 432, 504, 576, 624, 672, 864, 1008, 1044, 1440, 1488, 1740, 1812, 1956, 2016, 2064, 2184,
          2256, 2340, 2472, 2544, 2664, 2748, 2844, 3060, 3120, 3324, 3468, 3568, 3660, 3696, 3756, 3828, 3924, 4056,
          4320, 4656, 4836, 4916, 5048, 5108, 5168, 5396, 5612, 5660, 5864, 5888, 5984, 6056, 6176, 6284, 6368, 6476,
          6692, 6788, 6860, 6956, 7040, 7244, 7316, 7424, 7484, 7736, 7760, 7856, 7940, 8180, 8324, 8516, 8576, 8720,
          9080, 9128, 9188, 9284, 9368, 9608, 9704, 9850]
s_6242 = [36, 144, 492, 540, 660, 684, 828, 900, 972, 1008, 1068, 1140, 1200, 1320, 1512, 1704, 1788, 2112, 2148, 2232,
          2460, 2520, 2580, 2712, 2748, 2796, 2892, 3048, 3096, 3180, 3300, 3528, 3768, 3912, 4008, 4080, 4212, 4368,
          4416, 4536, 4716, 4776, 5036, 5088, 5312, 5612, 5648, 5696, 5792, 5864, 6068, 6236, 6356, 6428, 6560, 6644,
          6788, 6884, 7016, 7484, 7688, 8156, 8612, 8684, 8984, 9032, 9224, 9488, 9584]
s_6243 = [132, 192, 240, 624, 840, 1080, 1176, 1344, 1476, 1524, 1644, 2184, 2220, 2328, 2400, 2664, 2688, 2772, 2820,
          3024, 3456, 3492, 3660, 3696, 3780, 3840, 4044, 4344, 4596, 5204, 5456, 5636, 5816, 5864, 6056, 6188, 6500,
          6584, 6728, 6812, 7172, 7436, 7460, 8000, 8288, 8588, 8768, 9092, 9140, 9428, 9572]
s_6244 = [24, 72, 216, 252, 504, 756, 780, 1212, 1368, 1512, 1596, 1644, 1692, 1728, 2496, 2532, 2700, 3036, 3540, 4252,
          4452, 4864, 5300, 5444, 5792, 5900, 5948, 6044, 6212, 6692, 6920, 6968, 7016, 7196, 7328, 7376, 7664, 8240,
          8672, 8756, 9080, 9236, 9340, 9824]
s_6245 = [192, 1128, 1404, 1548, 1752, 1896, 1968, 2604, 2724, 2928, 2976, 3036, 3072, 3312, 3444, 3816, 3996, 4404,
          4452, 5132, 5552, 5612, 5672, 5840, 6224, 6332, 6668, 6884, 6908, 7772, 8012, 8564, 8588, 8768, 8840, 9056, 9560]
s_6246 = [252, 324, 540, 576, 936, 1080, 1188, 1500, 1944, 2028, 2268, 3048, 3252, 3564, 3612, 3744, 3804, 5204, 5840,
          5876, 6056, 6356, 6392, 7100, 7136, 7820, 8504, 8692, 9392, 9764]
s_6247 = [60, 1224, 2508, 2784, 4728, 5408, 6044, 6488, 6524, 6608, 6824, 7004, 7100, 7808, 8372, 8708, 9200]
s_6248 = [12, 60, 108, 372, 2136, 2388, 2820, 3612, 3676, 3864, 5276, 5648, 5960, 7148, 7340, 8864, 9212, 9272, 9716]
s_6249 = [204, 2100, 3276, 3528, 4092, 5348, 5972, 8732, 9020, 9116, 9176]
s_6250 = [1044, 1416, 2016, 4680, 6200, 6320, 8660]
s_6251 = [1560, 5024, 9308]
s_6252 = [1356, 1812, 6896]
s_6253 = [1632, 4428]
s_6254 = [9020, 9500, 9836]
s_6255 = [3180]

adc_counts = [6197, 6199, 6200, 6201, 6202, 6203, 6204, 6205, 6206, 6207, 6208, 6209, 6210, 6211, 6212, 6213, 6214,
              6215, 6216, 6217, 6218, 6219, 6220, 6221, 6222, 6223, 6224, 6225, 6226, 6227, 6228, 6229, 6230, 6231,
              6232, 6233, 6234, 6235, 6236, 6237, 6238, 6239, 6240, 6241, 6242, 6243, 6244, 6245, 6246, 6247, 6248,
              6249, 6250, 6251, 6252, 6253, 6254, 6255]
sample_lists = [s_6197, s_6199, s_6200, s_6201, s_6202, s_6203, s_6204, s_6205, s_6206, s_6207, s_6208, s_6209, s_6210,
                s_6211, s_6212, s_6213, s_6214, s_6215, s_6216, s_6217, s_6218, s_6219, s_6220, s_6221, s_6222, s_6223,
                s_6224, s_6225, s_6226, s_6227, s_6228, s_6229, s_6230, s_6231, s_6232, s_6233, s_6234, s_6235, s_6236,
                s_6237, s_6238, s_6239, s_6240, s_6241, s_6242, s_6243, s_6244, s_6245, s_6246, s_6247, s_6248, s_6249,
                s_6250, s_6251, s_6252, s_6253, s_6254, s_6255]

# long table for seaborn
rows = []
for count, samples in zip(adc_counts, sample_lists):
    for s in samples:
        rows.append((s, count))
df = pd.DataFrame(rows, columns=['Sample', 'ADC'])

fig, ax = plt.subplots(figsize=(10, 10))
sns.scatterplot(x='Sample', y='ADC', data=df, color='black', marker='o', s=16, linewidth=0, ax=ax,
                label='Samples\n$\\mu$ = 6225.62, $\\sigma$ = 8.5')
ax.set_axisbelow(True)
ax.grid(True)
ax.set_xlabel('Sample #')
ax.set_ylabel('ADC Counts')
ax.set_title('Run 528, channel108, Pedestal')
ax.legend(loc='upper right')
fig.subplots_adjust(left=0.081, right=0.985, top=0.965, bottom=0.059)
plt.savefig('out.png', dpi=100)
